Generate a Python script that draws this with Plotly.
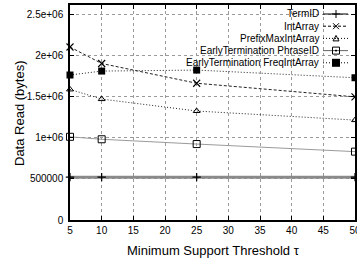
import plotly.graph_objects as go

thresholds = [5, 10, 25, 50]
term_id = [520000, 520000, 520000, 520000]
int_array = [2100000, 1900000, 1660000, 1495000]
prefix_max_int_array = [1585000, 1468000, 1323000, 1213000]
et_phrase_id = [1010000, 980000, 922000, 830000]
et_freq_int_array = [1760000, 1808000, 1820000, 1727000]

series_names = ["TermID", "IntArray", "PrefixMaxIntArray",
                "EarlyTermination PhraseID", "EarlyTermination FreqIntArray"]

y_tickvals = [0, 500000, 1000000, 1500000, 2000000, 2500000]
y_ticktext = ["0", "500000", "1e+06", "1.5e+06", "2e+06", "2.5e+06"]
x_tickvals = [5, 10, 15, 20, 25, 30, 35, 40, 45, 50]

FONT = "Liberation Sans, Arial, Helvetica, sans-serif"

# plot area in pixels
L, R, T, B = 70, 355, 5, 220
W, H = 357, 265


def px_x(p):
    return (p - L) / (R - L)


def px_y(p):
    return (B - p) / (B - T)


styles = [
    dict(line=dict(color="#8a8a8a", width=3), marker=dict(symbol="cross-thin-open", size=6, color="black", line=dict(width=1.2, color="black"))),
    dict(line=dict(color="#222", width=1, dash="3px,2px"), marker=dict(symbol="x-thin-open", size=7, color="black", line=dict(width=1.1, color="black"))),
    dict(line=dict(color="#222", width=1, dash="1px,2px"), marker=dict(symbol="triangle-up-open", size=6, color="black", line=dict(width=1, color="black"))),
    dict(line=dict(color="#9a9a9a", width=1), marker=dict(symbol="square-open", size=7, color="black", line=dict(width=1, color="black"))),
    dict(line=dict(color="#222", width=1, dash="1px,2px"), marker=dict(symbol="square", size=7, color="black", line=dict(width=0, color="black"))),
]
all_values = [term_id, int_array, prefix_max_int_array, et_phrase_id, et_freq_int_array]

fig = go.Figure()
for name, vals, st in zip(series_names, all_values, styles):
    fig.add_trace(go.Scatter(x=thresholds, y=vals, name=name, mode="lines+markers",
                             line=st["line"], marker=st["marker"], cliponaxis=False,
                             showlegend=False))

# custom gnuplot-style legend: text right-aligned, sample on the right
shapes = []
annotations = []
legend_lines = [
    dict(color="black", width=1),
    dict(color="black", width=1, dash="3px,2px"),
    dict(color="black", width=1, dash="1px,2px"),
    dict(color="#666", width=1),
    dict(color="black", width=1, dash="1px,2px"),
]
marker_paths = [
    ("M -4 0 L 4 0 M 0 -4 L 0 4", None),
    ("M -3 -3 L 3 3 M -3 3 L 3 -3", None),
    ("M -3 -2.5 L 3 -2.5 L 0 3 Z", None),
    ("M -3.5 -3.5 L 3.5 -3.5 L 3.5 3.5 L -3.5 3.5 Z M -0.5 -0.5 L 0.5 -0.5 L 0.5 0.5 L -0.5 0.5 Z", None),
    ("M -4 -4 L 4 -4 L 4 4 L -4 4 Z", "black"),
]
for i, name in enumerate(series_names):
    yp = 14 + i * 12.2
    annotations.append(dict(text=name, xref="paper", yref="paper", x=px_x(321), y=px_y(yp),
                            xanchor="right", yanchor="middle", showarrow=False,
                            font=dict(family=FONT, size=10, color="black")))
    shapes.append(dict(type="line", xref="paper", yref="paper", x0=px_x(323), x1=px_x(348),
                       y0=px_y(yp), y1=px_y(yp), line=legend_lines[i], layer="above"))
    path, fill = marker_paths[i]
    shapes.append(dict(type="path", xref="paper", yref="paper", xsizemode="pixel", ysizemode="pixel",
                       xanchor=px_x(336), yanchor=px_y(yp), path=path,
                       fillcolor=fill if fill else "rgba(0,0,0,0)",
                       line=dict(color="black", width=0 if fill else 1), layer="above"))

# axis titles
annotations.append(dict(text="Minimum Support Threshold τ", xref="paper", yref="paper",
                        x=px_x(213), y=px_y(251), xanchor="center", yanchor="middle",
                        showarrow=False, font=dict(family=FONT, size=13, color="black")))
annotations.append(dict(text="Data Read (bytes)", xref="paper", yref="paper",
                        x=px_x(19), y=px_y(113), xanchor="center", yanchor="middle", textangle=-90,
                        showarrow=False, font=dict(family=FONT, size=13, color="black")))

fig.update_layout(
    width=W, height=H,
    margin=dict(l=L, r=W - R, t=T, b=H - B, pad=0, autoexpand=False),
    plot_bgcolor="white", paper_bgcolor="white",
    font=dict(family=FONT, size=10, color="black"),
    shapes=shapes, annotations=annotations,
    showlegend=False,
)
fig.update_xaxes(range=[5, 50], tickvals=x_tickvals, ticks="inside", ticklen=4, tickcolor="black",
                 showline=True, linecolor="black", linewidth=1.5, mirror="allticks",
                 showgrid=True, gridcolor="#9a9a9a", griddash="dot", gridwidth=1,
                 zeroline=False, tickfont=dict(size=10), automargin=False,
                 ticklabeloverflow="allow")
fig.update_yaxes(range=[0, 2610000], tickvals=y_tickvals, ticktext=y_ticktext, ticks="inside",
                 ticklen=4, tickcolor="black",
                 showline=True, linecolor="black", linewidth=1.5, mirror="allticks",
                 showgrid=True, gridcolor="#9a9a9a", griddash="dot", gridwidth=1,
                 zeroline=False, tickfont=dict(size=10), ticklabelstandoff=3, automargin=False,
                 ticklabeloverflow="allow")

fig.write_html("out.html", config={"displayModeBar": False},
               post_script="document.body.style.margin='0px';document.body.style.overflow='hidden';")
